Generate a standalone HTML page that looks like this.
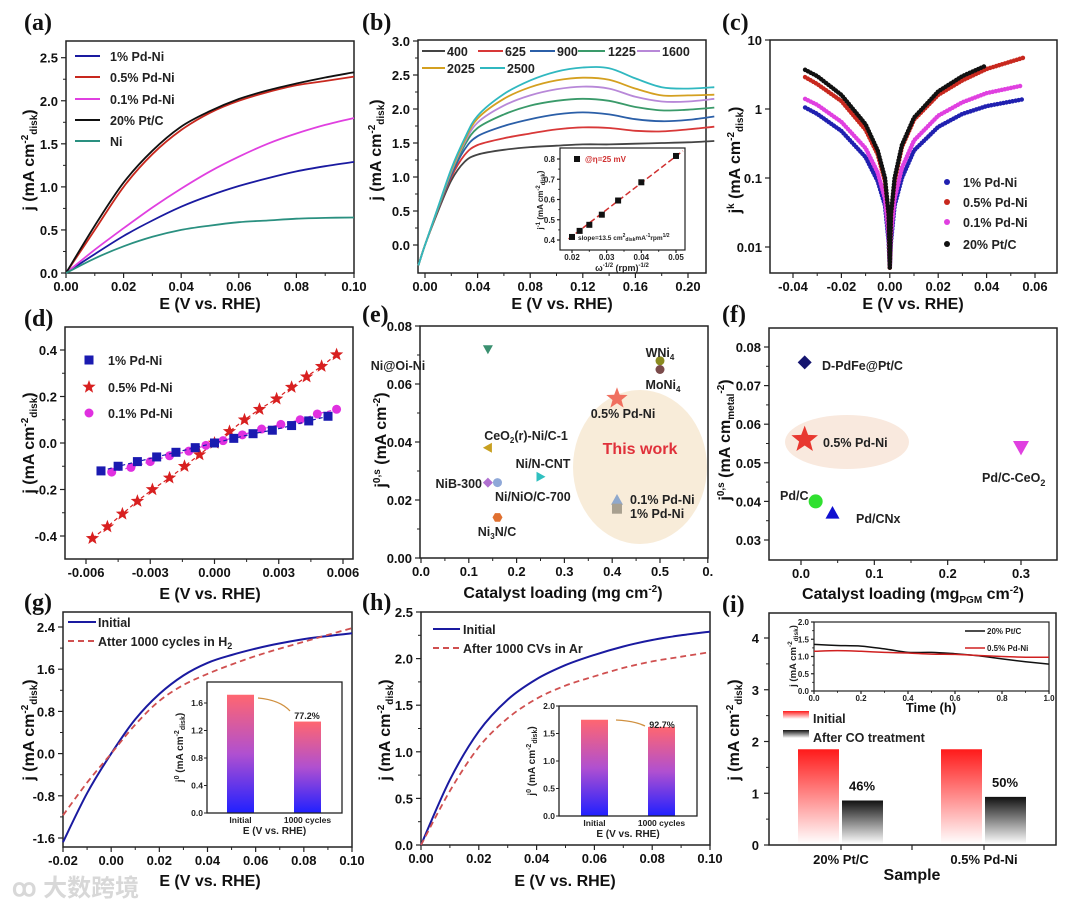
<!DOCTYPE html>
<html><head><meta charset="utf-8"><style>
html,body{margin:0;padding:0;background:#fff;}
svg{display:block;font-family:"Liberation Sans","Noto Sans CJK SC",sans-serif;}
.t{font-weight:bold;font-size:13px;fill:#111}
.at{font-weight:bold;font-size:16px;fill:#111}
.pl{font-family:"Liberation Serif",serif;font-weight:bold;font-size:24px;fill:#111}
.lg{font-weight:bold;font-size:12.5px;fill:#222}
.sm{font-weight:bold;font-size:8px;fill:#222}
</style></head><body>
<svg id="fig" width="1080" height="909" viewBox="0 0 1080 909" xmlns="http://www.w3.org/2000/svg">
<defs>
<linearGradient id="gRB" x1="0" y1="0" x2="0" y2="1"><stop offset="0" stop-color="#ff6670"/><stop offset="0.5" stop-color="#b050d0"/><stop offset="1" stop-color="#2020ff"/></linearGradient>
<linearGradient id="gRW" x1="0" y1="0" x2="0" y2="1"><stop offset="0" stop-color="#ff1a1a"/><stop offset="1" stop-color="#ffffff"/></linearGradient>
<linearGradient id="gKW" x1="0" y1="0" x2="0" y2="1"><stop offset="0" stop-color="#111"/><stop offset="1" stop-color="#ffffff"/></linearGradient>
</defs>
<text class="pl" x="24" y="30">(a)</text>
<text class="pl" x="362" y="30">(b)</text>
<text class="pl" x="722" y="30">(c)</text>
<text class="pl" x="24" y="326">(d)</text>
<text class="pl" x="362" y="322">(e)</text>
<text class="pl" x="722" y="322">(f)</text>
<text class="pl" x="24" y="610">(g)</text>
<text class="pl" x="362" y="610">(h)</text>
<text class="pl" x="722" y="612">(i)</text>

<text class="at" x="210" y="309" text-anchor="middle">E (V vs. RHE)</text>
<text class="at" x="562" y="309" text-anchor="middle">E (V vs. RHE)</text>
<text class="at" x="913" y="309" text-anchor="middle">E (V vs. RHE)</text>
<text class="at" x="210" y="599" text-anchor="middle">E (V vs. RHE)</text>
<text class="at" x="563" y="598" text-anchor="middle">Catalyst loading (mg cm<tspan font-size="10" dy="-6">-2</tspan><tspan dy="6">)</tspan></text>
<text class="at" x="913" y="599" text-anchor="middle">Catalyst loading (mg<tspan font-size="10" dy="4">PGM</tspan><tspan dy="-4"> cm</tspan><tspan font-size="10" dy="-6">-2</tspan><tspan dy="6">)</tspan></text>
<text class="at" x="210" y="886" text-anchor="middle">E (V vs. RHE)</text>
<text class="at" x="565" y="886" text-anchor="middle">E (V vs. RHE)</text>
<text class="at" x="912" y="880" text-anchor="middle">Sample</text>

<text class="at" transform="translate(34,160) rotate(-90)" text-anchor="middle">j (mA cm<tspan font-size="10" dy="-6">-2</tspan><tspan font-size="10" dy="9">disk</tspan><tspan dy="-3">)</tspan></text>
<text class="at" transform="translate(381,150) rotate(-90)" text-anchor="middle">j (mA cm<tspan font-size="10" dy="-6">-2</tspan><tspan font-size="10" dy="9">disk</tspan><tspan dy="-3">)</tspan></text>
<text class="at" transform="translate(740,160) rotate(-90)" text-anchor="middle">j<tspan font-size="10" dy="-6">k</tspan><tspan dy="6"> (mA cm</tspan><tspan font-size="10" dy="-6">-2</tspan><tspan font-size="10" dy="9">disk</tspan><tspan dy="-3">)</tspan></text>
<text class="at" transform="translate(34,443) rotate(-90)" text-anchor="middle">j (mA cm<tspan font-size="10" dy="-6">-2</tspan><tspan font-size="10" dy="9">disk</tspan><tspan dy="-3">)</tspan></text>
<text class="at" transform="translate(386,440) rotate(-90)" text-anchor="middle">j<tspan font-size="10" dy="-6">0,s</tspan><tspan dy="6"> (mA cm</tspan><tspan font-size="10" dy="-6">-2</tspan><tspan dy="6">)</tspan></text>
<text class="at" transform="translate(730,440) rotate(-90)" text-anchor="middle">j<tspan font-size="10" dy="-6">0,s</tspan><tspan dy="6"> (mA cm</tspan><tspan font-size="10" dy="4">metal</tspan><tspan font-size="10" dy="-10">-2</tspan><tspan dy="6">)</tspan></text>
<text class="at" transform="translate(34,730) rotate(-90)" text-anchor="middle">j (mA cm<tspan font-size="10" dy="-6">-2</tspan><tspan font-size="10" dy="9">disk</tspan><tspan dy="-3">)</tspan></text>
<text class="at" transform="translate(390,730) rotate(-90)" text-anchor="middle">j (mA cm<tspan font-size="10" dy="-6">-2</tspan><tspan font-size="10" dy="9">disk</tspan><tspan dy="-3">)</tspan></text>
<text class="at" transform="translate(739,730) rotate(-90)" text-anchor="middle">j (mA cm<tspan font-size="10" dy="-6">-2</tspan><tspan font-size="10" dy="9">disk</tspan><tspan dy="-3">)</tspan></text>

<ellipse cx="640" cy="467" rx="67" ry="77" fill="#f8ecd9"/>
<text x="640" y="454" text-anchor="middle" font-weight="bold" font-size="16" fill="#e0303a">This work</text>
<ellipse cx="847" cy="442" rx="62" ry="27" fill="#f9e9de"/>

<text x="12" y="896" font-size="24" fill="#d8d8d8" font-weight="bold">ꝏ 大数跨境</text>
</svg>
<script>
// ---------- DATA ----------
const aX=[0,0.01,0.02,0.03,0.04,0.05,0.06,0.07,0.08,0.09,0.10];
const aPtC=[0,0.55,1.05,1.42,1.70,1.88,2.02,2.12,2.20,2.27,2.33];
const aPd05=[0,0.50,1.00,1.38,1.66,1.86,2.00,2.10,2.18,2.23,2.28];
const aPd01=[0,0.27,0.52,0.76,0.98,1.18,1.35,1.50,1.62,1.72,1.80];
const aPd1=[0,0.22,0.43,0.61,0.77,0.90,1.01,1.10,1.18,1.24,1.29];
const aNi=[0,0.17,0.31,0.42,0.50,0.55,0.59,0.61,0.63,0.64,0.645];
const aXTicks=[0,0.02,0.04,0.06,0.08,0.10];
const aXLabels=["0.00","0.02","0.04","0.06","0.08","0.10"];
const aYTicks=[0,0.5,1.0,1.5,2.0,2.5];
const aYLabels=["0.0","0.5","1.0","1.5","2.0","2.5"];
const bX=[-0.005,0,0.01,0.02,0.03,0.04,0.06,0.08,0.10,0.12,0.14,0.16,0.18,0.20,0.22];
const bRpm=["400","625","900","1225","1600","2025","2500"];
const b400=[-0.3,0,0.50,0.95,1.22,1.33,1.40,1.44,1.46,1.48,1.48,1.49,1.50,1.51,1.53];
const b625=[-0.3,0,0.52,1.00,1.32,1.47,1.57,1.64,1.70,1.73,1.72,1.68,1.67,1.70,1.74];
const b900=[-0.3,0,0.53,1.03,1.40,1.60,1.75,1.85,1.92,1.95,1.92,1.85,1.82,1.84,1.89];
const b1225=[-0.3,0,0.54,1.06,1.46,1.72,1.92,2.05,2.12,2.15,2.12,2.03,1.98,1.99,2.02];
const b1600=[-0.3,0,0.55,1.08,1.50,1.80,2.05,2.20,2.29,2.33,2.30,2.18,2.11,2.11,2.15];
const b2025=[-0.3,0,0.55,1.10,1.53,1.86,2.15,2.32,2.42,2.46,2.43,2.30,2.20,2.20,2.21];
const b2500=[-0.3,0,0.56,1.12,1.56,1.90,2.22,2.42,2.55,2.61,2.60,2.45,2.32,2.30,2.32];
const bXTicks=[0,0.04,0.08,0.12,0.16,0.20];
const bXLabels=["0.00","0.04","0.08","0.12","0.16","0.20"];
const bYTicks=[0,0.5,1,1.5,2,2.5,3];
const bYLabels=["0.0","0.5","1.0","1.5","2.0","2.5","3.0"];
const bInX=[0.02,0.0222,0.025,0.0286,0.0333,0.04,0.05];
const bInY=[0.415,0.445,0.475,0.525,0.595,0.685,0.815];
const bInXTicks=[0.02,0.03,0.04,0.05];
const bInYTicks=[0.4,0.5,0.6,0.7,0.8];
const cX=[-0.035,-0.03,-0.02,-0.01,-0.005,-0.002,-0.0005,0,0.0005,0.002,0.005,0.01,0.02,0.03,0.04,0.055];
const cPtC=[3.7,3.0,1.6,0.6,0.25,0.1,0.03,0.005,0.03,0.1,0.3,0.75,1.8,3.0,4.3,null];
const cPd05=[2.9,2.3,1.3,0.5,0.22,0.09,0.03,0.005,0.03,0.09,0.28,0.7,1.6,2.6,3.8,5.5];
const cPd01=[1.4,1.15,0.65,0.27,0.12,0.05,0.015,0.005,0.015,0.05,0.14,0.35,0.8,1.25,1.7,2.2];
const cPd1=[1.05,0.85,0.48,0.2,0.09,0.04,0.012,0.005,0.012,0.04,0.1,0.25,0.55,0.85,1.1,1.38];
const cXTicks=[-0.04,-0.02,0,0.02,0.04,0.06];
const cXLabels=["-0.04","-0.02","0.00","0.02","0.04","0.06"];
const cYTicks=[0.01,0.1,1,10];
const cYLabels=["0.01","0.1","1","10"];
const dX1=[-0.0053,-0.0045,-0.0036,-0.0027,-0.0018,-0.0009,0,0.0009,0.0018,0.0027,0.0036,0.0044,0.0053];
const dY1=[-0.12,-0.10,-0.08,-0.06,-0.04,-0.02,0,0.02,0.04,0.055,0.075,0.095,0.115];
const dX05=[-0.0057,-0.0050,-0.0043,-0.0036,-0.0029,-0.0021,-0.0014,-0.0007,0,0.0007,0.0014,0.0021,0.0029,0.0036,0.0043,0.0050,0.0057];
const dY05=[-0.41,-0.36,-0.305,-0.25,-0.20,-0.15,-0.10,-0.05,0,0.05,0.10,0.145,0.19,0.24,0.285,0.33,0.38];
const dX01=[-0.0048,-0.0039,-0.0030,-0.0021,-0.0012,-0.0004,0.0004,0.0013,0.0022,0.0031,0.0040,0.0048,0.0057];
const dY01=[-0.125,-0.105,-0.08,-0.055,-0.035,-0.01,0.01,0.035,0.06,0.08,0.10,0.125,0.145];
const dXTicks=[-0.006,-0.003,0,0.003,0.006];
const dXLabels=["-0.006","-0.003","0.000","0.003","0.006"];
const dYTicks=[-0.4,-0.2,0,0.2,0.4];
const dYLabels=["-0.4","-0.2","0.0","0.2","0.4"];
const eNames=["Ni@Oi-Ni","WNi4","MoNi4","0.5% Pd-Ni","CeO2(r)-Ni/C-1","Ni/N-CNT","NiB-300","Ni/NiO/C-700","Ni3N/C","0.1% Pd-Ni","1% Pd-Ni"];
const eLoad=[0.14,0.50,0.50,0.41,0.14,0.25,0.14,0.16,0.16,0.41,0.41];
const eJ0=[0.072,0.068,0.065,0.055,0.038,0.028,0.026,0.026,0.014,0.020,0.017];
const eXTicks=[0,0.1,0.2,0.3,0.4,0.5,0.6];
const eXLabels=["0.0","0.1","0.2","0.3","0.4","0.5","0."];
const eYTicks=[0,0.02,0.04,0.06,0.08];
const eYLabels=["0.00","0.02","0.04","0.06","0.08"];
const fNames=["D-PdFe@Pt/C","0.5% Pd-Ni","Pd/C-CeO2","Pd/C","Pd/CNx"];
const fLoad=[0.005,0.005,0.30,0.02,0.043];
const fJ0=[0.076,0.056,0.054,0.040,0.037];
const fXTicks=[0,0.1,0.2,0.3];
const fXLabels=["0.0","0.1","0.2","0.3"];
const fYTicks=[0.03,0.04,0.05,0.06,0.07,0.08];
const fYLabels=["0.03","0.04","0.05","0.06","0.07","0.08"];
const gX=[-0.02,-0.01,0,0.01,0.02,0.03,0.04,0.05,0.06,0.07,0.08,0.09,0.10];
const gInit=[-1.68,-0.75,0,0.65,1.13,1.48,1.72,1.87,1.99,2.09,2.17,2.23,2.28];
const gAfter=[-1.17,-0.55,0,0.55,1.00,1.30,1.51,1.69,1.85,1.99,2.12,2.25,2.38];
const gXTicks=[-0.02,0,0.02,0.04,0.06,0.08,0.10];
const gXLabels=["-0.02","0.00","0.02","0.04","0.06","0.08","0.10"];
const gYTicks=[-1.6,-0.8,0,0.8,1.6,2.4];
const gYLabels=["-1.6","-0.8","0.0","0.8","1.6","2.4"];
const gBarCats=["Initial","1000 cycles"];
const gBarVals=[1.72,1.33];
const gInYTicks=[0,0.4,0.8,1.2,1.6];
const gInYLabels=["0.0","0.4","0.8","1.2","1.6"];
const hX=[0,0.01,0.02,0.03,0.04,0.05,0.06,0.07,0.08,0.09,0.10];
const hInit=[0,0.70,1.22,1.56,1.78,1.93,2.04,2.13,2.20,2.25,2.29];
const hAfter=[0,0.58,1.05,1.36,1.57,1.71,1.81,1.90,1.97,2.02,2.07];
const hXTicks=[0,0.02,0.04,0.06,0.08,0.10];
const hXLabels=["0.00","0.02","0.04","0.06","0.08","0.10"];
const hYTicks=[0,0.5,1,1.5,2,2.5];
const hYLabels=["0.0","0.5","1.0","1.5","2.0","2.5"];
const hBarCats=["Initial","1000 cycles"];
const hBarVals=[1.75,1.62];
const hInYTicks=[0,0.5,1,1.5,2];
const hInYLabels=["0.0","0.5","1.0","1.5","2.0"];
const iCats=["20% Pt/C","0.5% Pd-Ni"];
const iInitial=[1.85,1.85];
const iAfterCO=[0.86,0.93];
const iPct=["46%","50%"];
const iYTicks=[0,1,2,3,4];
const iYLabels=["0","1","2","3","4"];
const iT=[0,0.1,0.2,0.3,0.4,0.5,0.6,0.7,0.8,0.9,1.0];
const iPtC=[1.35,1.32,1.30,1.22,1.12,1.12,1.08,1.02,0.93,0.85,0.78];
const iPdNi=[1.15,1.17,1.15,1.12,1.10,1.07,1.06,1.03,1.00,0.98,0.98];
const iInXTicks=[0,0.2,0.4,0.6,0.8,1.0];
const iInXLabels=["0.0","0.2","0.4","0.6","0.8","1.0"];
const iInYTicks=[0,0.5,1,1.5,2];
const iInYLabels=["0.0","0.5","1.0","1.5","2.0"];

// ---------- HELPERS ----------
const NS='http://www.w3.org/2000/svg';
const svg=document.getElementById('fig');
function mk(tag,attrs,parent){const e=document.createElementNS(NS,tag);for(const k in attrs)e.setAttribute(k,attrs[k]);(parent||svg).appendChild(e);return e;}
function lin(d0,d1,r0,r1){return v=>r0+(v-d0)/(d1-d0)*(r1-r0);}
function txt(x,y,s,cls,anchor){const t=mk('text',{x:x,y:y,class:cls,'text-anchor':anchor||'start'});t.textContent=s;return t;}
function axes(name,L,R,T,B,X,Y,xt,xl,yt,yl,opt){
  opt=opt||{};
  const g=mk('g',{});
  
  
  const sw=opt.sw||1.5, tl=opt.tl||5, fs=opt.cls||'t', dyx=opt.dyx||18, dxy=opt.dxy||8;
  const box=mk('rect',{x:L,y:T,width:R-L,height:B-T,fill:'none',stroke:'#222','stroke-width':sw},g);
  
  
  xt.forEach((v,i)=>{const x=X(v);mk('line',{x1:x,x2:x,y1:B,y2:B+tl,stroke:'#222','stroke-width':1.2},g);
    if(i<xt.length-1&&!opt.noMinor){const xm=(x+X(xt[i+1]))/2;if(xm<R)mk('line',{x1:xm,x2:xm,y1:B,y2:B+tl*0.6,stroke:'#222','stroke-width':1},g);}
    const t=txt(x,B+dyx,xl[i],fs,'middle');g.appendChild(t);
    
    });
  yt.forEach((v,i)=>{const y=Y(v);mk('line',{x1:L-tl,x2:L,y1:y,y2:y,stroke:'#222','stroke-width':1.2},g);
    if(i<yt.length-1&&!opt.noMinor&&!opt.log){const ym=(y+Y(yt[i+1]))/2;mk('line',{x1:L-tl*0.6,x2:L,y1:ym,y2:ym,stroke:'#222','stroke-width':1},g);}
    const t=txt(L-dxy,y+(opt.dyy||5),yl[i],fs,'end');g.appendChild(t);
    
    });
  return g;
}
function path(xs,ys,X,Y){let d='';xs.forEach((v,i)=>{if(ys[i]==null)return;d+=(d?'L':'M')+X(v).toFixed(1)+','+Y(ys[i]).toFixed(1);});return d;}
function spath(xs,ys,X,Y){
  const P=xs.map((v,i)=>[X(v),Y(ys[i])]);
  let d='M'+P[0][0].toFixed(1)+','+P[0][1].toFixed(1);
  for(let i=0;i<P.length-1;i++){
    const p0=P[i-1]||P[i],p1=P[i],p2=P[i+1],p3=P[i+2]||P[i+1];
    const c1=[p1[0]+(p2[0]-p0[0])/6,p1[1]+(p2[1]-p0[1])/6];
    const c2=[p2[0]-(p3[0]-p1[0])/6,p2[1]-(p3[1]-p1[1])/6];
    d+='C'+c1.map(v=>v.toFixed(1)).join(',')+' '+c2.map(v=>v.toFixed(1)).join(',')+' '+p2.map(v=>v.toFixed(1)).join(',');
  }
  return d;
}
function starPts(cx,cy,r){let p=[];for(let k=0;k<10;k++){const a=-Math.PI/2+k*Math.PI/5;const rr=k%2?r*0.42:r;p.push((cx+rr*Math.cos(a)).toFixed(1)+','+(cy+rr*Math.sin(a)).toFixed(1));}return p.join(' ');}
function marker(shape,cx,cy,r,fill,parent){
  if(shape==='circle')return mk('circle',{cx:cx,cy:cy,r:r,fill:fill},parent);
  if(shape==='square')return mk('rect',{x:cx-r,y:cy-r,width:2*r,height:2*r,fill:fill},parent);
  if(shape==='star')return mk('polygon',{points:starPts(cx,cy,r*1.4),fill:fill},parent);
  let pts;
  if(shape==='tri')pts=[[0,-r],[r,r*0.8],[-r,r*0.8]];
  if(shape==='itri')pts=[[0,r],[r,-r*0.8],[-r,-r*0.8]];
  if(shape==='ltri')pts=[[-r,0],[r*0.8,-r],[r*0.8,r]];
  if(shape==='rtri')pts=[[r,0],[-r*0.8,-r],[-r*0.8,r]];
  if(shape==='diamond')pts=[[0,-r],[r,0],[0,r],[-r,0]];
  if(shape==='hex'){pts=[];for(let k=0;k<6;k++){const a=k*Math.PI/3;pts.push([r*Math.cos(a),r*Math.sin(a)]);}}
  return mk('polygon',{points:pts.map(p=>(cx+p[0]).toFixed(1)+','+(cy+p[1]).toFixed(1)).join(' '),fill:fill},parent);
}

// ---------- (a) ----------
{
const X=lin(0,0.1,66,354),Y=lin(0,2.5,273,57.7);
axes('panel-a',66,354,41,273,X,Y,aXTicks,aXLabels,aYTicks,aYLabels);
const ser=[[aPd1,'#1a1aa0','1% Pd-Ni'],[aPd05,'#c8281e','0.5% Pd-Ni'],[aPd01,'#e040e0','0.1% Pd-Ni'],[aPtC,'#111','20% Pt/C'],[aNi,'#2a9080','Ni']];
const ly=[56,77,99,120,141];
ser.forEach((s,i)=>{
  const p=mk('path',{d:spath(aX,s[0],X,Y),fill:'none',stroke:s[1],'stroke-width':1.8});
  
  
  mk('line',{x1:75,x2:100,y1:ly[i],y2:ly[i],stroke:s[1],'stroke-width':2});
  const t=txt(110,ly[i]+5,s[2],'lg');
  
  
});
}
// ---------- (b) ----------
{
const X=lin(0,0.2,425,688),Y=lin(0,3,245,41);
axes('panel-b',418,706,40,273,X,Y,bXTicks,bXLabels,bYTicks,bYLabels);
const sets=[b400,b625,b900,b1225,b1600,b2025,b2500];
const cols=['#444','#d83838','#2b5fa8','#3a9a6a','#b888d8','#d4a020','#30b8c0'];
const lx=[[422,445,447],[478,503,505],[530,555,557],[578,605,608],[637,660,662],[422,445,447],[480,505,507]];
const lyy=[51,51,51,51,51,68,68];
sets.forEach((s,i)=>{
  const p=mk('path',{d:spath(bX,s,X,Y),fill:'none',stroke:cols[i],'stroke-width':1.8});
  
  
  mk('line',{x1:lx[i][0],x2:lx[i][1],y1:lyy[i],y2:lyy[i],stroke:cols[i],'stroke-width':2});
  const t=txt(lx[i][2],lyy[i]+5,bRpm[i],'lg');
  
  
});
const g=mk('g',{});


mk('rect',{x:530,y:148,width:155,height:102,fill:'#fff'},g);
const IX=lin(0.02,0.05,572,676),IY=lin(0.4,0.8,240,159);
axes('inset-b',560,685,148,250,IX,IY,bInXTicks,bInXTicks.map(v=>v.toFixed(2)),bInYTicks,bInYTicks.map(v=>v.toFixed(1)),{sw:1.2,tl:3,cls:'sm',dyx:10,dxy:5,dyy:3});
mk('line',{x1:IX(0.019),x2:IX(0.052),y1:IY(0.405),y2:IY(0.84),stroke:'#d03030','stroke-width':1.5,'stroke-dasharray':'6 3'},g);
bInX.forEach((v,i)=>{const m=marker('square',IX(v),IY(bInY[i]),3,'#111',g);
  
  });
marker('square',577,159,3,'#111',g);
const t1=mk('text',{x:585,y:162,'font-size':8,'font-weight':'bold',fill:'#d03030'},g);t1.textContent='@η=25 mV';
const t2=mk('text',{x:578,y:240,'font-size':6.5,'font-weight':'bold',fill:'#222'},g);t2.innerHTML='slope=13.5 cm<tspan font-size="5" dy="-3">2</tspan><tspan font-size="5" dy="4">disk</tspan><tspan dy="-1">mA</tspan><tspan font-size="5" dy="-3">-1</tspan><tspan dy="3">rpm</tspan><tspan font-size="5" dy="-3">1/2</tspan>';
const t3=mk('text',{x:622,y:271,'font-size':9,'font-weight':'bold',fill:'#222','text-anchor':'middle'},g);t3.innerHTML='ω<tspan font-size="6" dy="-4">-1/2</tspan><tspan dy="4"> (rpm)</tspan><tspan font-size="6" dy="-4">-1/2</tspan>';
const t4=mk('text',{transform:'translate(543,200) rotate(-90)','font-size':8,'font-weight':'bold',fill:'#222','text-anchor':'middle'},g);t4.innerHTML='j<tspan font-size="6" dy="-3">-1</tspan><tspan dy="3"> (mA cm</tspan><tspan font-size="6" dy="-3">-2</tspan><tspan font-size="6" dy="5">disk</tspan><tspan dy="-2">)</tspan>';
}
// ---------- (c) ----------
{
const X=lin(-0.04,0.06,793,1035);const Y=v=>109-69*Math.log10(v);
axes('panel-c',770,1057,40,273,X,Y,cXTicks,cXLabels,cYTicks,cYLabels,{log:true});
const ser=[[cPd1,'#2020b0','1% Pd-Ni'],[cPd01,'#e040e0','0.1% Pd-Ni'],[cPd05,'#c8281e','0.5% Pd-Ni'],[cPtC,'#111','20% Pt/C']];
ser.forEach(s=>{
  const p=mk('path',{d:path(cX,s[0],X,Y),fill:'none',stroke:s[1],'stroke-width':4.5,'stroke-dasharray':'0.1 3','stroke-linecap':'round'});
  
  
});
const leg=[[cPd1,'#2020b0','1% Pd-Ni',182],[cPd05,'#c8281e','0.5% Pd-Ni',202],[cPd01,'#e040e0','0.1% Pd-Ni',222],[cPtC,'#111','20% Pt/C',244]];
leg.forEach(l=>{mk('circle',{cx:947,cy:l[3],r:3,fill:l[1]});const t=txt(963,l[3]+5,l[2],'lg');
  
  });
}
// ---------- (d) ----------
{
const X=lin(-0.006,0.006,86,343),Y=lin(-0.4,0.4,536,350);
axes('panel-d',65,353,327,559,X,Y,dXTicks,dXLabels,dYTicks,dYLabels);
const ser=[[dX05,dY05,'#d82020','star','0.5% Pd-Ni',387],[dX01,dY01,'#e030e0','circle','0.1% Pd-Ni',413],[dX1,dY1,'#1a1ab0','square','1% Pd-Ni',360]];
ser.forEach(s=>{
  const p=mk('path',{d:path(s[0],s[1],X,Y),fill:'none',stroke:s[2],'stroke-width':1.2,'stroke-dasharray':'4 3'});
  
  
  s[0].forEach((v,i)=>{const m=marker(s[3],X(v),Y(s[1][i]),s[3]==='star'?5:4.5,s[2]);
    
    });
  marker(s[3],89,s[5],s[3]==='star'?5:4.5,s[2]);
  const t=txt(108,s[5]+5,s[4],'lg');
  
  
});
}
// ---------- (e) ----------
{
const X=lin(0,0.5,421,660),Y=lin(0,0.08,558,326);
axes('panel-e',420,708,326,558,X,Y,eXTicks,eXLabels,eYTicks,eYLabels);
const shp=['itri','circle','circle','star','ltri','rtri','diamond','circle','hex','tri','square'];
const col=['#3a9070','#8a8a20','#7a4a4a','#f07060','#c8a020','#30c0c0','#b070d0','#8fa8d8','#e07030','#8fa8cc','#a8a090'];
const sz=[5,4.5,4.5,8,5,5,5,4.5,5,6,5];
const lab=[[398,370,'middle'],[660,357,'middle'],[663,389,'middle'],[623,418,'middle'],[526,440,'middle'],[543,468,'middle'],[482,488,'end'],[495,501,'start'],[497,536,'middle'],[630,504,'start'],[630,518,'start']];
eNames.forEach((n,i)=>{
  const m=marker(shp[i],X(eLoad[i]),Y(eJ0[i]),sz[i],col[i]);
  
  
  const t=txt(lab[i][0],lab[i][1],'', 'lg',lab[i][2]);
  t.setAttribute('font-size','11.5');
  if(n==='WNi4')t.innerHTML='WNi<tspan font-size="8" dy="3">4</tspan>';
  else if(n==='MoNi4')t.innerHTML='MoNi<tspan font-size="8" dy="3">4</tspan>';
  else if(n==='Ni3N/C')t.innerHTML='Ni<tspan font-size="8" dy="3">3</tspan><tspan dy="-3">N/C</tspan>';
  else if(n.startsWith('CeO2'))t.innerHTML='CeO<tspan font-size="8" dy="3">2</tspan><tspan dy="-3">(r)-Ni/C-1</tspan>';
  else t.textContent=n;
  
  
});
}
// ---------- (f) ----------
{
const X=lin(0,0.3,801,1021),Y=lin(0.03,0.08,540,347);
axes('panel-f',769,1057,328,560,X,Y,fXTicks,fXLabels,fYTicks,fYLabels);
const shp=['diamond','star','itri','circle','tri'],col=['#151570','#e83830','#e040e0','#30e030','#1010d0'],sz=[7,10,8,7,7];
const lab=[[822,370,'start'],[823,447,'start'],[982,482,'start'],[780,500,'start'],[856,523,'start']];
fNames.forEach((n,i)=>{
  const m=marker(shp[i],X(fLoad[i]),Y(fJ0[i]),sz[i],col[i]);
  
  
  const t=txt(lab[i][0],lab[i][1],'','lg',lab[i][2]);
  t.setAttribute('font-size','13');
  if(n==='Pd/C-CeO2')t.innerHTML='Pd/C-CeO<tspan font-size="9" dy="4">2</tspan>';else t.textContent=n;
  if(n==='0.5% Pd-Ni')t.setAttribute('fill','#555');
  
  
});
}
function barInset(name,L,R,T,B,ymax,yt,yl,cats,vals,bx,bw,pct,pctX,pctY,arrow){
  const g=mk('g',{});
  
  
  mk('rect',{x:L,y:T,width:R-L,height:B-T,fill:'#fff'},g);
  const Y=lin(0,ymax,B,T);
  vals.forEach((v,i)=>{const r=mk('rect',{x:bx[i],y:Y(v),width:bw,height:B-Y(v),fill:'url(#gRB)'},g);
    
    
    const t=mk('text',{x:bx[i]+bw/2,y:B+10,'font-size':8.5,'font-weight':'bold',fill:'#222','text-anchor':'middle'},g);t.textContent=cats[i];});
  mk('rect',{x:L,y:T,width:R-L,height:B-T,fill:'none',stroke:'#222','stroke-width':1.3},g);
  yt.forEach((v,i)=>{mk('line',{x1:L-3,x2:L,y1:Y(v),y2:Y(v),stroke:'#222'},g);
    const t=mk('text',{x:L-4,y:Y(v)+3,'font-size':8.5,'font-weight':'bold',fill:'#222','text-anchor':'end'},g);t.textContent=yl[i];});
  const t=mk('text',{x:(L+R)/2,y:B+21,'font-size':10,'font-weight':'bold',fill:'#222','text-anchor':'middle'},g);t.textContent='E (V vs. RHE)';
  const yl2=mk('text',{transform:'translate('+(L-24)+','+((T+B)/2)+') rotate(-90)','font-size':10,'font-weight':'bold',fill:'#222','text-anchor':'middle'},g);
  yl2.innerHTML='j<tspan font-size="7" dy="-4">0</tspan><tspan dy="4"> (mA cm</tspan><tspan font-size="7" dy="-4">-2</tspan><tspan font-size="7" dy="6">disk</tspan><tspan dy="-2">)</tspan>';
  const p=mk('text',{x:pctX,y:pctY,'font-size':9,'font-weight':'bold',fill:'#222','text-anchor':'middle'},g);p.textContent=pct;
  mk('path',{d:arrow,fill:'none',stroke:'#d09040','stroke-width':1.3},g);
}
// ---------- (g) ----------
{
const X=lin(-0.02,0.1,63,352),Y=lin(-1.6,2.4,838,627);
axes('panel-g',63,352,612,847,X,Y,gXTicks,gXLabels,gYTicks,gYLabels);
const p1=mk('path',{d:spath(gX,gInit,X,Y),fill:'none',stroke:'#1a1aa0','stroke-width':2});


const p2=mk('path',{d:spath(gX,gAfter,X,Y),fill:'none',stroke:'#d05050','stroke-width':1.8,'stroke-dasharray':'6 4'});


mk('line',{x1:68,x2:96,y1:622,y2:622,stroke:'#1a1aa0','stroke-width':2});
txt(98,627,'Initial','lg');
mk('line',{x1:68,x2:96,y1:641,y2:641,stroke:'#d05050','stroke-width':2,'stroke-dasharray':'6 4'});
const t=txt(98,646,'','lg');t.innerHTML='Atter 1000 cycles in H<tspan font-size="9" dy="3">2</tspan>';
barInset('inset-g-j0-bars',207,342,682,813,1.6*(813-682)/(813-703),gInYTicks,gInYLabels,gBarCats,gBarVals,[227,294],27,'77.2%',307,719,'M258,698 Q280,700 290,711');
}
// ---------- (h) ----------
{
const X=lin(0,0.1,421,710),Y=lin(0,2.5,845,612);
axes('panel-h',421,710,612,845,X,Y,hXTicks,hXLabels,hYTicks,hYLabels);
const p1=mk('path',{d:spath(hX,hInit,X,Y),fill:'none',stroke:'#1a1aa0','stroke-width':2});


const p2=mk('path',{d:spath(hX,hAfter,X,Y),fill:'none',stroke:'#d05050','stroke-width':1.8,'stroke-dasharray':'6 4'});


mk('line',{x1:433,x2:460,y1:629,y2:629,stroke:'#1a1aa0','stroke-width':2});
txt(463,634,'Initial','lg');
mk('line',{x1:433,x2:460,y1:648,y2:648,stroke:'#d05050','stroke-width':2,'stroke-dasharray':'6 4'});
txt(463,653,'After 1000 CVs in Ar','lg');
barInset('inset-h-j0-bars',559,697,706,816,2,hInYTicks,hInYLabels,hBarCats,hBarVals,[581,648],27,'92.7%',662,728,'M616,720 Q635,721 645,726');
}
// ---------- (i) ----------
{
const Y=lin(0,4,845,638);
const catX=[841,984];
axes('panel-i',769,1056,613,845,v=>v,Y,[912],[''],iYTicks,iYLabels,{dxy:10});
catX.forEach((cx,i)=>{
  mk('line',{x1:cx,x2:cx,y1:845,y2:850,stroke:'#222','stroke-width':1.2});
  const t=txt(cx,864,iCats[i],'t','middle');
  
  
  const r1=mk('rect',{x:cx-43,y:Y(iInitial[i]),width:41,height:845-Y(iInitial[i])-1,fill:'url(#gRW)'});
  
  
  const r2=mk('rect',{x:cx+1,y:Y(iAfterCO[i]),width:41,height:845-Y(iAfterCO[i])-1,fill:'url(#gKW)'});
  
  
  const p=txt(cx+21,Y(iAfterCO[i])-10,iPct[i],'t','middle');p.setAttribute('font-size','14');
});
mk('rect',{x:783,y:711,width:26,height:8,fill:'url(#gRW)'});
txt(813,723,'Initial','lg').setAttribute('font-size','13');
mk('rect',{x:783,y:730,width:26,height:8,fill:'url(#gKW)'});
txt(813,742,'After CO treatment','lg').setAttribute('font-size','13');
const IX=lin(0,1,814,1049),IY=lin(0,2,691,622);
axes('inset-i',814,1049,622,691,IX,IY,iInXTicks,iInXLabels,iInYTicks,iInYLabels,{sw:1.2,tl:3,cls:'sm',dyx:10,dxy:5,dyy:3});
const q1=mk('path',{d:spath(iT,iPtC,IX,IY),fill:'none',stroke:'#111','stroke-width':1.5});


const q2=mk('path',{d:spath(iT,iPdNi,IX,IY),fill:'none',stroke:'#d02020','stroke-width':1.5});


mk('line',{x1:965,x2:985,y1:631,y2:631,stroke:'#111','stroke-width':1.5});
txt(987,634,'20% Pt/C','sm');
mk('line',{x1:965,x2:985,y1:648,y2:648,stroke:'#d02020','stroke-width':1.5});
txt(987,651,'0.5% Pd-Ni','sm');
const tt=txt(931,712,'Time (h)','t','middle');tt.setAttribute('font-size','10');
const yy=mk('text',{transform:'translate(796,656) rotate(-90)','font-size':9.5,'font-weight':'bold',fill:'#222','text-anchor':'middle'});
yy.innerHTML='j (mA cm<tspan font-size="6.5" dy="-4">-2</tspan><tspan font-size="6.5" dy="6">disk</tspan><tspan dy="-2">)</tspan>';
}
</script>
</body></html>
